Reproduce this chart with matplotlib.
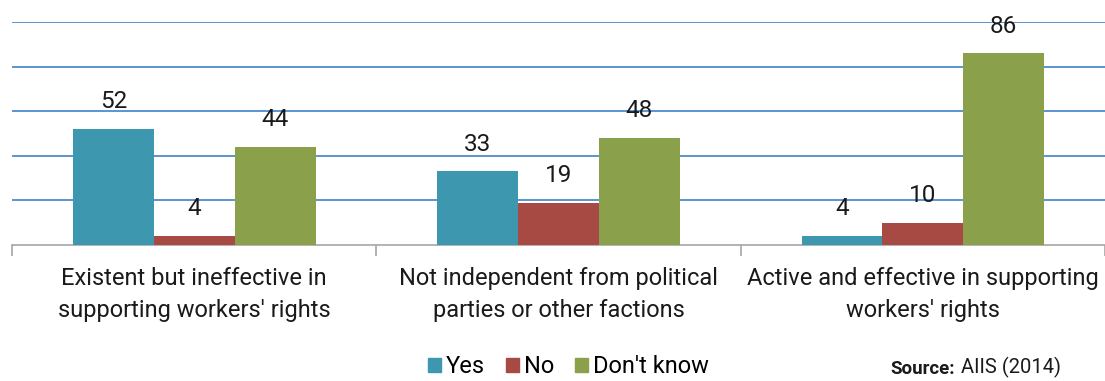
import matplotlib

matplotlib.use("Agg")

import matplotlib.pyplot as plt
import numpy as np

categories = [
    "Existent but ineffective in\nsupporting workers' rights",
    "Not independent from political\nparties or other factions",
    "Active and effective in supporting\nworkers' rights",
]
series_names = ["Yes", "No", "Don't know"]
yes_values = [52, 33, 4]
no_values = [4, 19, 10]
dont_know_values = [44, 48, 86]
gridline_values = [20, 40, 60, 80, 100]

colors = ["#3d97ae", "#a84a44", "#8aa04b"]
plt.rcParams["font.family"] = ["Roboto", "DejaVu Sans"]

fig = plt.figure(figsize=(11.05, 3.81), dpi=100)
ax = fig.add_axes([0.011, 0.357, 0.989, 0.585])

x = np.arange(len(categories))
width = 0.222
series = [yes_values, no_values, dont_know_values]
for i, (name, vals, col) in enumerate(zip(series_names, series, colors)):
    pos = x + (i - 1) * width
    ax.bar(pos, vals, width=width, color=col, label=name, zorder=3)
    for px, v in zip(pos, vals):
        ax.text(px, v + 7, str(v), ha="center", va="bottom", fontsize=17.5, color="#1a1a1a")

for g in gridline_values:
    ax.axhline(g, color="#5b93cf", linewidth=1.4, zorder=1)

ax.set_xlim(-0.5, 2.5)
ax.set_ylim(0, 100)
for side in ["top", "right", "left"]:
    ax.spines[side].set_visible(False)
ax.spines["bottom"].set_color("#a6a6a6")
ax.spines["bottom"].set_linewidth(1.2)
ax.set_yticks([])
ax.set_xticks([-0.5, 0.5, 1.5, 2.5])
ax.set_xticklabels([])
ax.tick_params(axis="x", length=8, color="#a6a6a6", width=1.2)
for xi, lab in zip(x, categories):
    ax.text(xi, -10, lab, ha="center", va="top", fontsize=17, color="#1a1a1a",
            linespacing=1.5)

handles = [plt.Rectangle((0, 0), 1, 1, color=c) for c in colors]
fig.legend(handles, series_names, loc="lower left", bbox_to_anchor=(0.368, -0.048),
           ncol=3, frameon=False, fontsize=17, handlelength=0.55, handleheight=0.55,
           handletextpad=0.2, columnspacing=0.9)

fig.text(0.806, 0.008, "Source:", ha="left", va="bottom", fontsize=13.5,
         fontweight="bold", color="#1a1a1a")
fig.text(0.870, 0.008, "AIIS (2014)", ha="left", va="bottom", fontsize=14.5,
         color="#1a1a1a")

fig.savefig("out.png", dpi=100)
